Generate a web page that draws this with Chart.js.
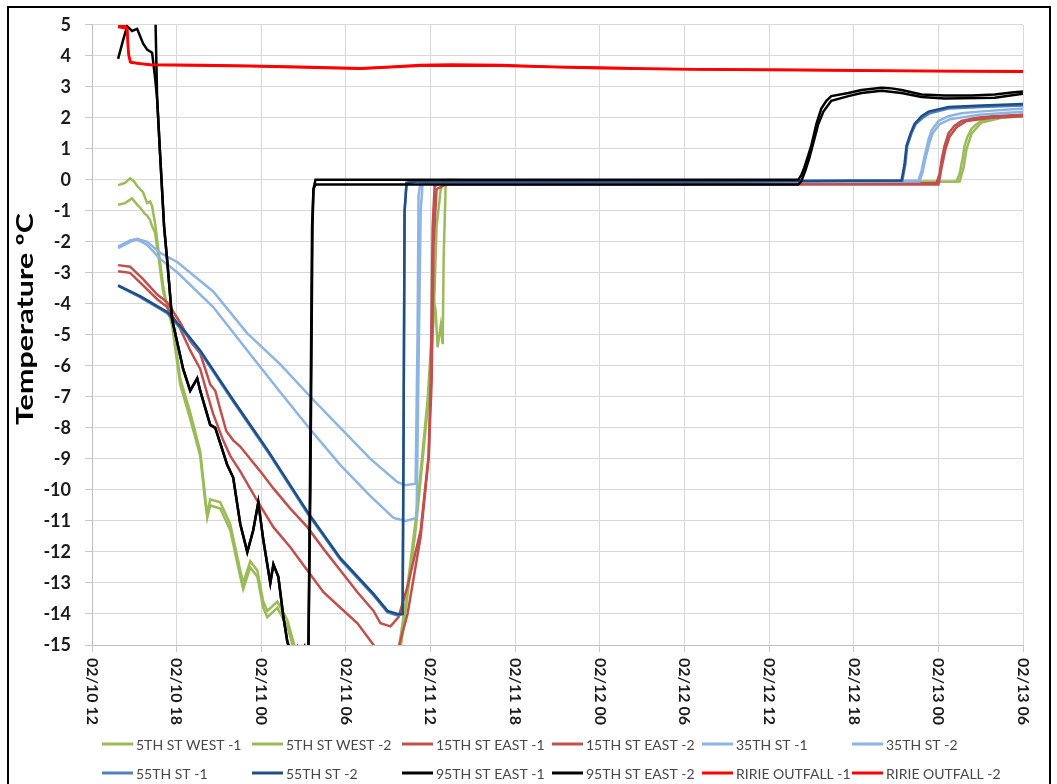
<!DOCTYPE html>
<html>
<head>
<meta charset="utf-8">
<title>Temperature</title>
<script src="https://cdn.jsdelivr.net/npm/chart.js@4.4.1/dist/chart.umd.min.js"></script>
<style>
  body { margin: 0; background: #fff; }
  canvas { display: block; }
</style>
</head>
<body>
<canvas id="tempChart" width="1057" height="784"></canvas>
<script>
// hours after 02/10 12:00, temperature in degC
const west1 = [[1.85,-0.17],[2.34,-0.1],[2.7,0.05],[2.98,-0.05],[3.2,-0.2],[3.62,-0.4],[3.91,-0.75],[4.12,-0.7],[4.26,-0.85],[4.47,-1.4],[4.69,-2.2],[5.04,-3.4],[5.33,-4.1],[5.68,-4.5],[6.25,-6.4],[6.96,-7.5],[7.67,-8.75],[8.03,-10.25],[8.17,-10.8],[8.38,-10.3],[9.09,-10.4],[9.8,-11.1],[10.51,-12.6],[10.72,-13.0],[11.22,-12.3],[11.72,-12.6],[12.14,-13.6],[12.43,-13.9],[13.14,-13.6],[13.85,-14.2],[14.28,-14.9],[14.77,-15.6],[18.3,-17],[21.73,-15.2],[22.23,-13.6],[22.94,-11.0],[23.3,-9.4],[23.79,-7.1],[24.08,-5.0],[24.22,-3.9],[24.36,-4.2],[24.5,-5.4],[24.72,-4.7],[24.86,-5.3],[24.93,-2.5],[25.07,-0.2],[25.21,0.0],[28.98,-0.05],[43.18,-0.08],[61.29,-0.05],[61.51,0.2],[61.72,0.7],[61.86,1.1],[62.07,1.4],[62.36,1.65],[62.71,1.8],[63.07,1.9],[63.99,2.0],[64.84,2.05],[66,2.1]];
const west2 = [[1.85,-0.8],[2.34,-0.75],[2.84,-0.6],[3.2,-0.8],[3.41,-0.9],[3.76,-1.1],[3.91,-1.15],[4.12,-1.3],[4.26,-1.5],[4.47,-1.7],[4.69,-2.4],[5.04,-3.6],[5.68,-4.7],[6.25,-6.6],[6.96,-7.7],[7.67,-8.9],[8.03,-10.4],[8.17,-10.9],[8.38,-10.5],[9.09,-10.6],[9.8,-11.3],[10.51,-12.8],[10.72,-13.2],[11.22,-12.5],[11.72,-12.8],[12.14,-13.8],[12.43,-14.1],[13.14,-13.8],[13.85,-14.4],[14.28,-15.1],[14.77,-15.8],[18.3,-17],[21.66,-15.5],[21.88,-15.1],[22.23,-13.9],[22.94,-11.3],[23.79,-7.4],[24.22,-4.5],[24.43,-1.5],[24.72,-0.3],[25.07,-0.05],[43.18,-0.1],[61.51,-0.05],[61.79,0.4],[62.0,1.0],[62.36,1.5],[63.07,1.85],[64.49,2.0],[66,2.05]];
const east1 = [[1.85,-2.75],[2.7,-2.8],[3.62,-3.2],[4.62,-3.7],[5.33,-3.95],[6.25,-4.6],[6.96,-5.2],[7.67,-5.6],[8.03,-6.1],[8.38,-6.6],[8.74,-6.8],[9.09,-7.4],[9.52,-8.1],[10.01,-8.4],[10.51,-8.6],[11.22,-9.0],[11.93,-9.4],[12.86,-9.95],[14.06,-10.6],[15.27,-11.2],[16.41,-11.9],[17.61,-12.6],[18.82,-13.3],[19.96,-13.9],[20.45,-14.3],[21.16,-14.4],[21.73,-14.1],[22.37,-13.1],[23.3,-11.3],[23.86,-8.9],[24.01,-6.5],[24.15,-1.5],[24.29,-0.2],[24.72,-0.1],[43.18,-0.12],[59.87,-0.1],[60.09,0.2],[60.23,0.65],[60.44,1.1],[60.72,1.5],[61.15,1.75],[61.65,1.9],[62.71,2.0],[63.78,2.05],[66,2.1]];
const east2 = [[1.85,-2.95],[2.7,-3.0],[3.62,-3.4],[4.62,-3.85],[5.33,-4.1],[6.25,-4.8],[6.96,-5.5],[7.67,-6.1],[8.17,-6.9],[8.59,-7.55],[9.3,-8.4],[9.8,-8.9],[10.51,-9.4],[11.72,-10.35],[12.86,-11.2],[14.06,-11.85],[15.27,-12.6],[16.41,-13.3],[17.61,-13.8],[18.82,-14.3],[19.96,-15.0],[20.45,-15.3],[21.02,-15.6],[21.66,-15.2],[22.37,-14.0],[23.3,-11.5],[23.86,-9.0],[24.08,-6.5],[24.22,-2.0],[24.43,-0.3],[25.07,-0.15],[43.18,-0.15],[60.01,-0.15],[60.23,0.4],[60.51,1.0],[60.8,1.4],[61.29,1.7],[62.0,1.9],[63.78,2.0],[66,2.05]];
const st35a = [[1.85,-2.15],[2.7,-1.95],[3.2,-1.9],[3.91,-2.0],[4.83,-2.35],[6.04,-2.65],[8.59,-3.6],[11.01,-4.95],[13.35,-5.95],[15.7,-7.1],[17.61,-8.0],[19.74,-9.0],[21.66,-9.75],[22.23,-9.85],[22.94,-9.8],[23.08,-5.0],[23.15,-0.5],[23.3,-0.05],[43.18,-0.05],[58.59,-0.02],[58.81,0.3],[59.02,0.75],[59.3,1.3],[59.52,1.6],[60.01,1.9],[60.72,2.05],[61.65,2.15],[62.86,2.2],[66,2.3]];
const st35b = [[1.85,-2.2],[2.7,-2.0],[3.2,-1.92],[3.91,-2.1],[4.83,-2.55],[6.04,-2.98],[8.59,-4.1],[11.01,-5.5],[13.35,-6.85],[15.48,-8.05],[17.61,-9.2],[19.74,-10.2],[21.38,-10.9],[22.23,-11.0],[23.01,-10.9],[23.15,-6.0],[23.3,-1.0],[23.44,-0.1],[43.18,-0.08],[58.66,-0.05],[58.88,0.25],[59.09,0.7],[59.37,1.2],[59.6,1.5],[60.1,1.8],[60.8,1.95],[62.86,2.1],[66,2.2]];
const st55a = [[1.85,-3.42],[3.41,-3.78],[5.33,-4.3],[6.61,-4.95],[7.67,-5.55],[10.01,-7.15],[12.43,-8.75],[15.27,-10.75],[17.61,-12.25],[19.96,-13.4],[20.95,-13.95],[21.66,-14.05],[22.02,-14.0],[22.09,-8.0],[22.16,-1.0],[22.3,-0.1],[23.0,-0.05],[43.18,-0.05],[57.45,-0.02],[57.66,0.5],[57.8,1.1],[58.1,1.5],[58.4,1.8],[58.9,2.0],[59.4,2.15],[60.72,2.3],[63.07,2.35],[66,2.4]];
const st55b = [[1.85,-3.4],[3.41,-3.75],[5.33,-4.26],[6.61,-4.9],[7.67,-5.5],[10.01,-7.1],[12.43,-8.7],[15.27,-10.7],[17.61,-12.2],[19.96,-13.35],[20.95,-13.9],[21.66,-14.0],[22.02,-14.0],[22.09,-8.0],[22.16,-1.0],[22.3,-0.1],[23.0,-0.05],[43.18,-0.05],[57.39,-0.02],[57.6,0.5],[57.74,1.1],[58.03,1.5],[58.31,1.8],[58.81,2.05],[59.3,2.2],[60.72,2.35],[63.07,2.4],[66,2.45]];
const st95a = [[1.85,3.9],[2.2,4.5],[2.49,4.95],[2.84,4.8],[3.2,4.87],[3.62,4.4],[3.91,4.2],[4.26,4.1],[4.47,3.3],[4.62,2.6],[4.83,0.8],[5.11,-1.5],[5.33,-2.6],[5.68,-4.5],[6.46,-6.1],[6.96,-6.8],[7.46,-6.4],[7.67,-6.8],[8.38,-7.9],[8.74,-8.0],[9.59,-9.2],[10.01,-9.6],[10.51,-11.1],[11.01,-12.0],[11.43,-11.3],[11.79,-10.4],[12.14,-11.6],[12.64,-13.0],[12.86,-12.4],[13.21,-12.8],[13.57,-14.1],[13.85,-14.9],[14.2,-15.3],[14.56,-15.05],[14.77,-15.3],[15.06,-15.05],[15.2,-15.4],[15.34,-15.2],[15.48,-10.0],[15.63,-1.5],[15.7,-0.3],[15.84,0.0],[43.18,0.0],[50.07,0.0],[50.28,0.15],[50.5,0.4],[50.78,0.8],[50.99,1.1],[51.35,1.8],[51.7,2.3],[52.06,2.55],[52.41,2.7],[53.62,2.8],[54.55,2.9],[55.97,2.97],[56.68,2.95],[57.39,2.9],[58.81,2.75],[60.44,2.72],[62.36,2.72],[63.99,2.75],[65.2,2.82],[66,2.85]];
const st95b = [[1.85,6.5],[4.26,6.5],[4.47,5.8],[4.62,2.6],[4.83,0.8],[5.11,-1.5],[5.33,-2.6],[5.68,-4.5],[6.46,-6.1],[6.96,-6.8],[7.46,-6.4],[7.67,-6.8],[8.38,-7.9],[8.74,-8.0],[9.59,-9.2],[10.01,-9.6],[10.51,-11.1],[11.01,-12.0],[11.43,-11.3],[11.79,-10.4],[12.14,-11.6],[12.64,-13.0],[12.86,-12.4],[13.21,-12.8],[13.57,-14.1],[13.85,-14.9],[14.2,-15.5],[15.2,-15.5],[15.34,-15.3],[15.45,-10.0],[15.6,-1.5],[15.7,-0.3],[15.84,-0.15],[50.07,-0.15],[50.28,-0.05],[50.57,0.3],[50.85,0.7],[51.14,1.2],[51.49,1.8],[51.85,2.2],[52.41,2.55],[53.62,2.7],[54.55,2.8],[55.97,2.87],[57.39,2.8],[58.81,2.67],[60.44,2.62],[63.99,2.65],[66,2.78]];
const ririe1 = [[1.85,4.95],[2.34,4.95],[2.49,4.9],[2.56,4.2],[2.7,3.8],[3.41,3.75],[4.12,3.72],[7.67,3.7],[11.22,3.68],[14.77,3.65],[19.03,3.6],[21.16,3.65],[23.3,3.7],[25.43,3.72],[28.98,3.7],[32.53,3.65],[36.08,3.62],[39.63,3.58],[43.18,3.57],[50.28,3.55],[57.39,3.52],[66,3.5]];
const ririe2 = [[1.85,4.93],[2.49,4.88],[2.6,4.0],[2.77,3.78],[4.12,3.7],[11.22,3.66],[19.03,3.58],[23.3,3.68],[28.98,3.68],[36.08,3.6],[43.18,3.56],[57.39,3.51],[66,3.49]];

const seriesNames = ["5TH ST WEST -1", "5TH ST WEST -2", "15TH ST EAST -1", "15TH ST EAST -2", "35TH ST -1", "35TH ST -2",
  "55TH ST -1", "55TH ST -2", "95TH ST EAST -1", "95TH ST EAST -2", "RIRIE OUTFALL -1", "RIRIE OUTFALL -2"];
const seriesData = [west1, west2, east1, east2, st35a, st35b, st55a, st55b, st95a, st95b, ririe1, ririe2];
const seriesColors = ["#9BBB59", "#9BBB59", "#C0504D", "#C0504D", "#8DB4E2", "#8DB4E2",
  "#4F81BD", "#1F4E85", "#000000", "#000000", "#FF0000", "#FF0000"];

const xTickHours = [0, 6, 12, 18, 24, 30, 36, 42, 48, 54, 60, 66];
const xTickLabels = ["02/10 12", "02/10 18", "02/11 00", "02/11 06", "02/11 12", "02/11 18",
  "02/12 00", "02/12 06", "02/12 12", "02/12 18", "02/13 00", "02/13 06"];
const yTitle = "Temperature ºC";

// x labels (rotated clockwise), y title, legend and frame
const extras = {
  id: "extras",
  beforeDraw(chart) {
    const ctx = chart.ctx;
    ctx.save();
    ctx.fillStyle = "#fff";
    ctx.fillRect(0, 0, chart.width, chart.height);
    ctx.restore();
  },
  afterDraw(chart) {
    const ctx = chart.ctx;
    const xs = chart.scales.x;
    const area = chart.chartArea;
    ctx.save();

    ctx.font = "bold 16px Lato";
    ctx.fillStyle = "#1A1A1A";
    ctx.textAlign = "left";
    ctx.textBaseline = "middle";
    xTickHours.forEach((h, i) => {
      ctx.save();
      ctx.translate(xs.getPixelForValue(h), area.bottom + 13);
      ctx.rotate(Math.PI / 2);
      ctx.fillText(xTickLabels[i], 0, 0);
      ctx.restore();
    });

    ctx.save();
    ctx.font = "bold 23px Lato";
    ctx.fillStyle = "#000";
    ctx.textAlign = "center";
    ctx.textBaseline = "middle";
    const w = ctx.measureText(yTitle).width;
    ctx.translate(26, 319);
    ctx.rotate(-Math.PI / 2);
    ctx.scale(212 / w, 1);
    ctx.fillText(yTitle, 0, 0);
    ctx.restore();

    ctx.font = "14px Lato";
    ctx.fillStyle = "#474747";
    ctx.textAlign = "left";
    ctx.textBaseline = "middle";
    seriesNames.forEach((name, i) => {
      const lx = 102 + (i % 6) * 150;
      const ly = 744 + Math.floor(i / 6) * 29;
      ctx.strokeStyle = seriesColors[i];
      ctx.lineWidth = 3;
      ctx.beginPath();
      ctx.moveTo(lx, ly);
      ctx.lineTo(lx + 31, ly);
      ctx.stroke();
      ctx.fillText(name, lx + 34, ly + 1);
    });

    ctx.strokeStyle = "#000";
    ctx.lineWidth = 2;
    ctx.strokeRect(8, 7, 1042, 800);
    ctx.restore();
  }
};

new Chart(document.getElementById("tempChart"), {
  type: "line",
  data: {
    datasets: seriesNames.map((name, i) => ({
      label: name,
      data: seriesData[i].map(([x, y]) => ({ x, y })),
      borderColor: seriesColors[i],
      backgroundColor: seriesColors[i],
      borderWidth: 2.5,
      pointRadius: 0,
      tension: 0,
      order: seriesNames.length - i,
    })),
  },
  options: {
    responsive: false,
    animation: false,
    events: [],
    layout: { padding: { top: 21, right: 34, bottom: 0, left: 0 } },
    plugins: { legend: { display: false }, tooltip: { enabled: false } },
    scales: {
      x: {
        type: "linear",
        min: 0,
        max: 66,
        ticks: { stepSize: 6, display: false },
        grid: { color: "#D9D9D9", tickColor: "#C8C8C8", tickLength: 7 },
        border: { color: "#BFBFBF" },
        afterFit: (scale) => { scale.height = 139; },
      },
      y: {
        min: -15,
        max: 5,
        ticks: {
          stepSize: 1,
          padding: 14,
          color: "#1A1A1A",
          font: { family: "Lato", weight: "bold", size: 18 },
        },
        grid: { color: "#D9D9D9", tickColor: "#C8C8C8", tickLength: 7 },
        border: { color: "#BFBFBF" },
        afterFit: (scale) => { scale.width = 92; },
      },
    },
  },
  plugins: [extras],
});
</script>
</body>
</html>
